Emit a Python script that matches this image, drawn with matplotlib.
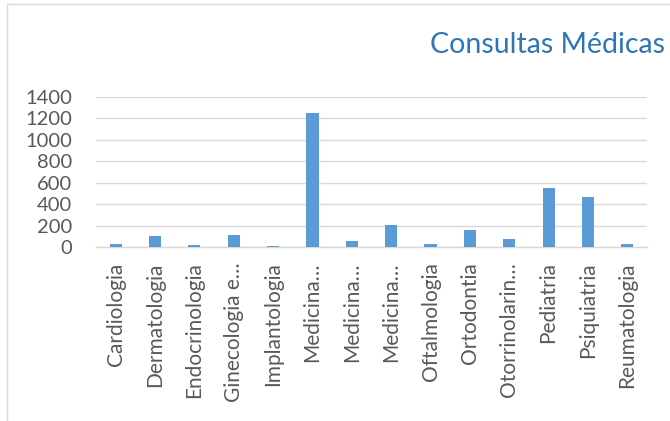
import matplotlib
matplotlib.use("Agg")
import matplotlib.pyplot as plt
from matplotlib.patches import Rectangle

categories = ["Cardiologia", "Dermatologia", "Endocrinologia", "Ginecologia e…",
              "Implantologia", "Medicina…", "Medicina…", "Medicina…",
              "Oftalmologia", "Ortodontia", "Otorrinolarin…", "Pediatria",
              "Psiquiatria", "Reumatologia"]
values = [25, 100, 17, 110, 6, 1250, 53, 202, 28, 156, 78, 548, 470, 27]
yticks = [0, 200, 400, 600, 800, 1000, 1200, 1400]
title = "Consultas Médicas"

plt.rcParams['font.family'] = ['Lato', 'DejaVu Sans']
text_color = "#595959"
grid_color = "#D9D9D9"

fig = plt.figure(figsize=(6.7, 4.21), dpi=100)
fig.patch.set_facecolor("white")

# chart border
fig.patches.append(Rectangle((7/670, -0.05), 1.0, 1 - 4/421 + 0.05,
                             transform=fig.transFigure, fill=False,
                             edgecolor=grid_color, linewidth=1.0))

ax = fig.add_axes([96/670, 1 - 247/421, (647 - 96)/670, (247 - 97)/421])
x = list(range(len(categories)))
ax.bar(x, values, width=0.31, color="#5B9BD5", zorder=3)
ax.set_xlim(-0.5, len(categories) - 0.5)
ax.set_ylim(0, 1400)
ax.set_yticks(yticks)
ax.set_yticklabels([str(v) for v in yticks], fontsize=14.5, color=text_color)
ax.set_xticks(x)
ax.set_xticklabels(categories, rotation=90, fontsize=15, color=text_color,
                   va='top', ha='center')
ax.tick_params(axis='both', length=0)
ax.tick_params(axis='x', pad=11)
ax.tick_params(axis='y', pad=17)
ax.grid(axis='y', color=grid_color, linewidth=1.0, zorder=0)
for s in ['top', 'right', 'left']:
    ax.spines[s].set_visible(False)
ax.spines['bottom'].set_color(grid_color)
ax.spines['bottom'].set_linewidth(1.0)

fig.text(665/670, 1 - 45/421, title, ha='right', va='center',
         fontsize=20.5, color="#2E75B6")

fig.savefig("out.png", dpi=100)
